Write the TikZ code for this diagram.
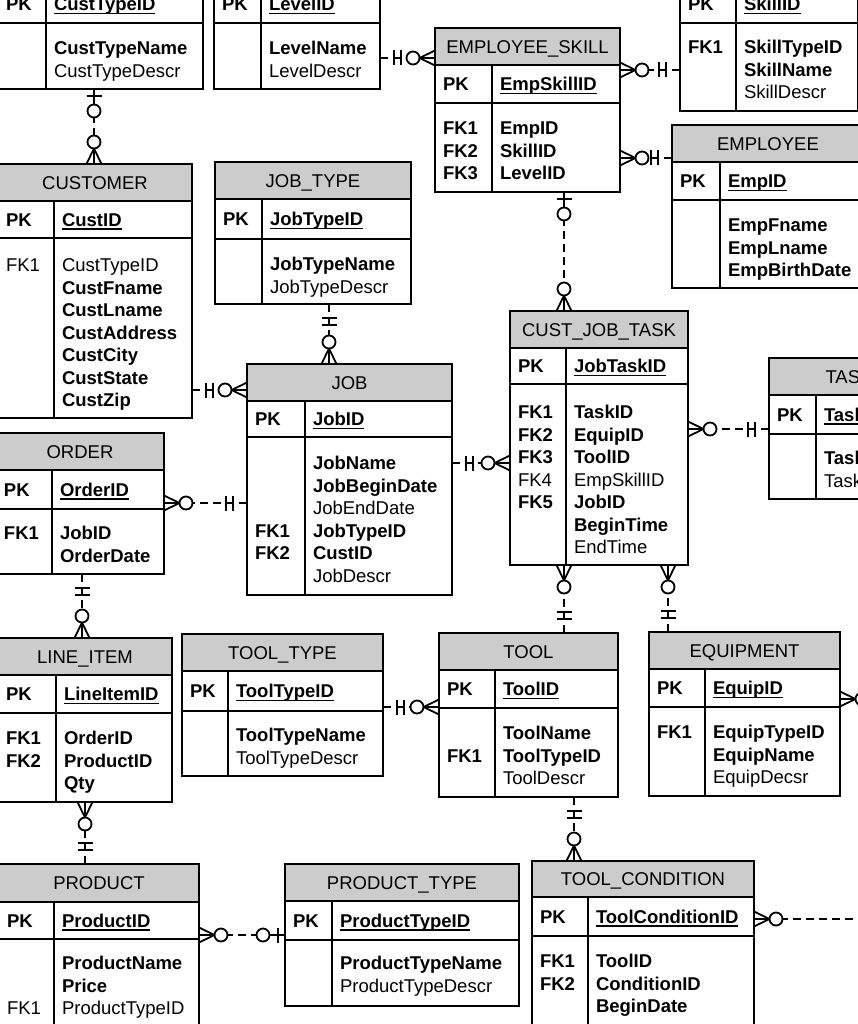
\documentclass[tikz,border=0pt]{standalone}
\usepackage{fontspec}
\setmainfont{Liberation Sans}
\definecolor{hdr}{RGB}{204,204,204}
\newcommand\fsz{\fontsize{18.5pt}{22pt}\selectfont}
\newsavebox\keybox
\newcommand\ukey[1]{\sbox\keybox{\bfseries #1}\usebox\keybox\llap{\rule[-3.5pt]{\wd\keybox}{1.2pt}}}
\tikzset{
  tbl/.style={draw, line width=1.2pt, inner sep=0pt, outer sep=0pt, rectangle},
  hdrbox/.style={tbl, fill=hdr},
  tline/.style={line width=1.2pt},
  txt/.style={inner sep=0pt, outer sep=0pt, anchor=west, text height=13.2pt, text depth=0pt, font=\fsz},
  conn/.style={line width=1.6pt, dash pattern=on 8pt off 5pt},
  mk/.style={line width=1.8pt, solid},
  crowz/.pic={\draw[mk] (15.5,0) -- (0,7.5) (15.5,0) -- (0,0) (15.5,0) -- (0,-7.5);
              \draw[mk,fill=white] (22,0) circle[radius=6.5];},
  bartwo/.pic={\draw[mk] (14,-7.5) -- (14,7.5) (21,-7.5) -- (21,7.5) (14,0) -- (21,0);},
  barz/.pic={\draw[mk] (0,0) -- (15.5,0) (7,-7.5) -- (7,7.5);
             \draw[mk,fill=white] (22,0) circle[radius=6.5];},
}
% name, L, R, D, T, H, P, B, title
\newcommand\entity[9]{%
  \node[tbl, anchor=north west, minimum width={#3-(#2)}, minimum height={#8-(#5)}] (#1) at (#2,#5) {};
  \node[hdrbox, anchor=north west, minimum width={#3-(#2)}, minimum height={#6-(#5)}] (#1-h) at (#2,#5) {};
  \node[txt, anchor=center] (#1-t) at ({(#2+#3)/2},{(#5+#6)/2}) {#9};
  \draw[tline] (#2,#7) -- (#3,#7) (#4,#6) -- (#4,#8);
}
% name, xleft, xkey, y, key
\newcommand\pkrow[5]{%
  \node[txt] (#1-pk) at (#2,#4) {\textbf{PK}};
  \node[txt] (#1-key) at (#3,#4) {\ukey{#5}};
}
% name, x, y0, list
\newcommand\rows[4]{%
  \foreach \s [count=\i] in {#4} {\node[txt] (#1\i) at (#2,{#3+(\i-1)*22.5}) {\s};}
}
\begin{document}
\begin{tikzpicture}[x=1pt,y=-1pt]
\useasboundingbox (0,0) rectangle (858,1024);
\fill[white] (0,0) rectangle (858,1024);
\clip (0,0) rectangle (858,1024);

% CUST_TYPE (top cut)
\entity{custtype}{-2}{203}{46}{-60}{-15}{23}{89}{}
\pkrow{custtype}{6}{54}{4}{CustTypeID}
\rows{custtype-r}{54}{48}{\textbf{CustTypeName},CustTypeDescr}

% LEVEL (top cut)
\entity{level}{214}{380}{261}{-60}{-15}{23}{89}{}
\pkrow{level}{222}{269}{4}{LevelID}
\rows{level-r}{269}{48}{\textbf{LevelName},LevelDescr}

% SKILL (top cut)
\entity{skill}{680}{857.5}{736}{-60}{-15}{23}{111}{}
\pkrow{skill}{688}{744}{4}{SkillID}
\rows{skill-l}{688}{47}{\textbf{FK1}}
\rows{skill-r}{744}{47}{\textbf{SkillTypeID},\textbf{SkillName},SkillDescr}

% EMPLOYEE_SKILL
\entity{empskill}{435}{620}{492}{28}{65}{103}{192}{EMPLOYEE\_SKILL}
\pkrow{empskill}{443}{500}{84}{EmpSkillID}
\rows{empskill-l}{443}{128}{\textbf{FK1},\textbf{FK2},\textbf{FK3}}
\rows{empskill-r}{500}{128}{\textbf{EmpID},\textbf{SkillID},\textbf{LevelID}}

% EMPLOYEE
\entity{employee}{672}{864}{720}{125}{162}{200}{288}{EMPLOYEE}
\pkrow{employee}{680}{728}{181}{EmpID}
\rows{employee-r}{728}{225}{\textbf{EmpFname},\textbf{EmpLname},\textbf{EmpBirthDate}}

% CUSTOMER
\entity{customer}{-2}{192}{54}{164}{201}{238}{418}{CUSTOMER}
\pkrow{customer}{6}{62}{219.5}{CustID}
\rows{customer-l}{6}{265}{FK1}
\rows{customer-r}{62}{265}{CustTypeID,\textbf{CustFname},\textbf{CustLname},\textbf{CustAddress},\textbf{CustCity},\textbf{CustState},\textbf{CustZip}}

% JOB_TYPE
\entity{jobtype}{215}{411}{262}{162}{199}{239}{304}{JOB\_TYPE}
\pkrow{jobtype}{223}{270}{219}{JobTypeID}
\rows{jobtype-r}{270}{264}{\textbf{JobTypeName},JobTypeDescr}

% JOB
\entity{job}{247}{452}{305}{364}{401}{437}{595}{JOB}
\pkrow{job}{255}{313}{419}{JobID}
\rows{job-l}{255}{530.5}{\textbf{FK1},\textbf{FK2}}
\rows{job-r}{313}{463}{\textbf{JobName},\textbf{JobBeginDate},JobEndDate,\textbf{JobTypeID},\textbf{CustID},JobDescr}

% ORDER
\entity{order}{-4}{164}{52}{433}{470}{509}{574}{ORDER}
\pkrow{order}{4}{60}{489.5}{OrderID}
\rows{order-l}{4}{533}{\textbf{FK1}}
\rows{order-r}{60}{533}{\textbf{JobID},\textbf{OrderDate}}

% CUST_JOB_TASK
\entity{cjt}{510}{688}{566}{311}{348}{384}{565}{CUST\_JOB\_TASK}
\pkrow{cjt}{518}{574}{366}{JobTaskID}
\rows{cjt-l}{518}{412}{\textbf{FK1},\textbf{FK2},\textbf{FK3},FK4,\textbf{FK5}}
\rows{cjt-r}{574}{412}{\textbf{TaskID},\textbf{EquipID},\textbf{ToolID},EmpSkillID,\textbf{JobID},\textbf{BeginTime},EndTime}

% TASK (right cut)
\entity{task}{769}{929}{816}{358}{395}{434}{499}{TASK}
\pkrow{task}{777}{824}{414.5}{TaskID}
\rows{task-r}{824}{458}{\textbf{TaskName},TaskDescr}

% LINE_ITEM
\entity{lineitem}{-2}{172}{56}{638}{675}{713}{802}{LINE\_ITEM}
\pkrow{lineitem}{6}{64}{694}{LineItemID}
\rows{lineitem-l}{6}{738}{\textbf{FK1},\textbf{FK2}}
\rows{lineitem-r}{64}{738}{\textbf{OrderID},\textbf{ProductID},\textbf{Qty}}

% TOOL_TYPE
\entity{tooltype}{182}{383}{228}{634}{671}{711}{776}{TOOL\_TYPE}
\pkrow{tooltype}{190}{236}{691}{ToolTypeID}
\rows{tooltype-r}{236}{735}{\textbf{ToolTypeName},ToolTypeDescr}

% TOOL
\entity{tool}{439}{618}{495}{633}{670}{708}{797}{TOOL}
\pkrow{tool}{447}{503}{689}{ToolID}
\rows{tool-l}{447}{755.5}{\textbf{FK1}}
\rows{tool-r}{503}{733}{\textbf{ToolName},\textbf{ToolTypeID},ToolDescr}

% EQUIPMENT
\entity{equip}{649}{840}{705}{632}{669}{707}{796}{EQUIPMENT}
\pkrow{equip}{657}{713}{688}{EquipID}
\rows{equip-l}{657}{732}{\textbf{FK1}}
\rows{equip-r}{713}{732}{\textbf{EquipTypeID},\textbf{EquipName},EquipDecsr}

% PRODUCT
\entity{product}{-1}{199}{54}{864}{902}{939}{1040}{PRODUCT}
\pkrow{product}{7}{62}{920.5}{ProductID}
\rows{product-l}{7}{1008}{FK1}
\rows{product-r}{62}{963}{\textbf{ProductName},\textbf{Price},ProductTypeID}

% PRODUCT_TYPE
\entity{prodtype}{285}{519}{332}{864}{901}{940}{1006}{PRODUCT\_TYPE}
\pkrow{prodtype}{293}{340}{920.5}{ProductTypeID}
\rows{prodtype-r}{340}{963}{\textbf{ProductTypeName},ProductTypeDescr}

% TOOL_CONDITION
\entity{toolcond}{532}{754}{588}{861}{897}{936}{1040}{TOOL\_CONDITION}
\pkrow{toolcond}{540}{596}{916.5}{ToolConditionID}
\rows{toolcond-l}{540}{961}{\textbf{FK1},\textbf{FK2}}
\rows{toolcond-r}{596}{961}{\textbf{ToolID},\textbf{ConditionID},\textbf{BeginDate}}

\coordinate (eqoff) at (880,699);
\coordinate (tcoff) at (880,919);

% ---- connectors ----
% CUST_TYPE - CUSTOMER
\draw[conn] (custtype.south -| 94,0) -- (customer.north -| 94,0);
\pic[rotate=-90] at (custtype.south -| 94,0) {barz};
\pic[rotate=90] at (customer.north -| 94,0) {crowz};
% LEVEL - EMPLOYEE_SKILL
\draw[conn] (level.east |- 0,58) -- (empskill.west |- 0,58);
\pic at (level.east |- 0,58) {bartwo};
\pic[rotate=180] at (empskill.west |- 0,58) {crowz};
% SKILL - EMPLOYEE_SKILL
\draw[conn] (skill.west |- 0,70) -- (empskill.east |- 0,70);
\pic[rotate=180] at (skill.west |- 0,70) {bartwo};
\pic at (empskill.east |- 0,70) {crowz};
% EMPLOYEE - EMPLOYEE_SKILL
\draw[conn] (employee.west |- 0,158) -- (empskill.east |- 0,158);
\pic[rotate=180] at (employee.west |- 0,158) {bartwo};
\pic at (empskill.east |- 0,158) {crowz};
% EMPLOYEE_SKILL - CUST_JOB_TASK
\draw[conn] (empskill.south -| 564,0) -- (cjt.north -| 564,0);
\pic[rotate=-90] at (empskill.south -| 564,0) {barz};
\pic[rotate=90] at (cjt.north -| 564,0) {crowz};
% JOB_TYPE - JOB
\draw[conn] (jobtype.south -| 329,0) -- (job.north -| 329,0);
\pic[rotate=-90] at (jobtype.south -| 329,0) {bartwo};
\pic[rotate=90] at (job.north -| 329,0) {crowz};
% CUSTOMER - JOB
\draw[conn] (customer.east |- 0,390) -- (job.west |- 0,390);
\pic at (customer.east |- 0,390) {bartwo};
\pic[rotate=180] at (job.west |- 0,390) {crowz};
% JOB - ORDER
\draw[conn] (job.west |- 0,503) -- (order.east |- 0,503);
\pic[rotate=180] at (job.west |- 0,503) {bartwo};
\pic at (order.east |- 0,503) {crowz};
% JOB - CUST_JOB_TASK
\draw[conn] (job.east |- 0,463) -- (cjt.west |- 0,463);
\pic at (job.east |- 0,463) {bartwo};
\pic[rotate=180] at (cjt.west |- 0,463) {crowz};
% TASK - CUST_JOB_TASK
\draw[conn] (task.west |- 0,429) -- (cjt.east |- 0,429);
\pic[rotate=180] at (task.west |- 0,429) {bartwo};
\pic at (cjt.east |- 0,429) {crowz};
% ORDER - LINE_ITEM
\draw[conn] (order.south -| 82,0) -- (lineitem.north -| 82,0);
\pic[rotate=-90] at (order.south -| 82,0) {bartwo};
\pic[rotate=90] at (lineitem.north -| 82,0) {crowz};
% PRODUCT - LINE_ITEM
\draw[conn] (product.north -| 85,0) -- (lineitem.south -| 85,0);
\pic[rotate=90] at (product.north -| 85,0) {bartwo};
\pic[rotate=-90] at (lineitem.south -| 85,0) {crowz};
% TOOL_TYPE - TOOL
\draw[conn] (tooltype.east |- 0,707) -- (tool.west |- 0,707);
\pic at (tooltype.east |- 0,707) {bartwo};
\pic[rotate=180] at (tool.west |- 0,707) {crowz};
% TOOL - CUST_JOB_TASK
\draw[conn] (tool.north -| 564,0) -- (cjt.south -| 564,0);
\pic[rotate=90] at (tool.north -| 564,0) {bartwo};
\pic[rotate=-90] at (cjt.south -| 564,0) {crowz};
% EQUIPMENT - CUST_JOB_TASK
\draw[conn] (equip.north -| 668,0) -- (cjt.south -| 668,0);
\pic[rotate=90] at (equip.north -| 668,0) {bartwo};
\pic[rotate=-90] at (cjt.south -| 668,0) {crowz};
% TOOL - TOOL_CONDITION
\draw[conn] (tool.south -| 574,0) -- (toolcond.north -| 574,0);
\pic[rotate=-90] at (tool.south -| 574,0) {bartwo};
\pic[rotate=90] at (toolcond.north -| 574,0) {crowz};
% PRODUCT_TYPE - PRODUCT
\draw[conn] (prodtype.west |- 0,935) -- (product.east |- 0,935);
\pic[rotate=180] at (prodtype.west |- 0,935) {barz};
\pic at (product.east |- 0,935) {crowz};
% EQUIPMENT - off page
\draw[conn] (equip.east |- 0,699) -- (eqoff);
\pic at (equip.east |- 0,699) {crowz};
% TOOL_CONDITION - off page
\draw[conn] (toolcond.east |- 0,919) -- (tcoff);
\pic at (toolcond.east |- 0,919) {crowz};
\end{tikzpicture}
\end{document}
